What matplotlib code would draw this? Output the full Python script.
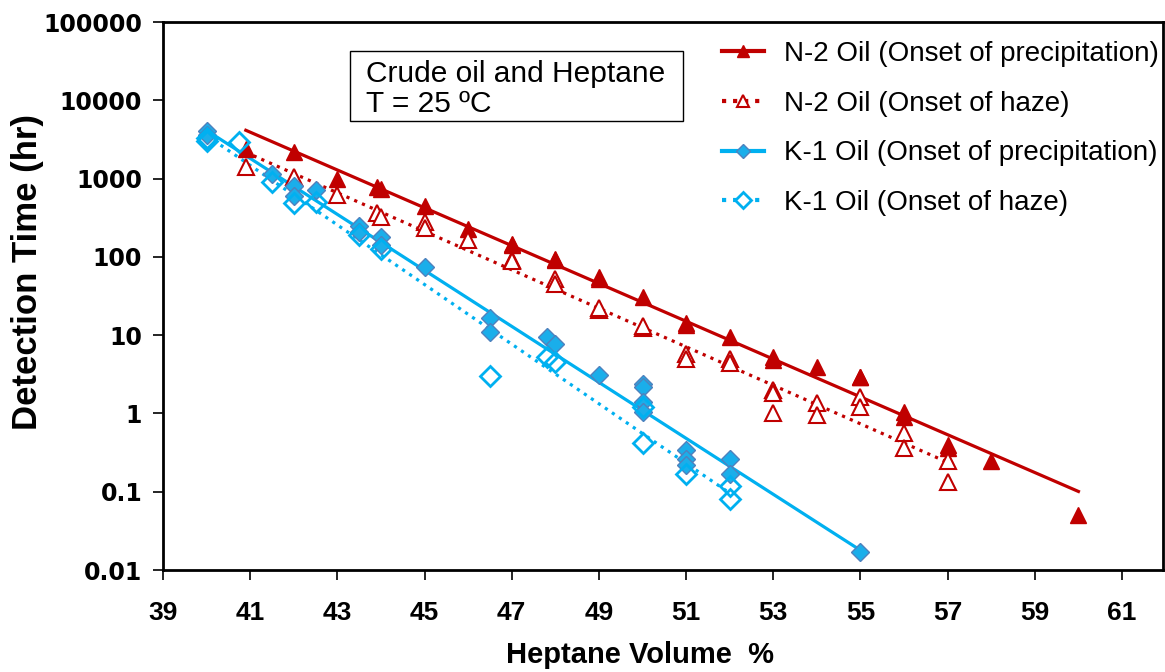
import numpy as np
import matplotlib
matplotlib.use("Agg")
import matplotlib.pyplot as plt
from matplotlib.lines import Line2D
from matplotlib.patches import Rectangle
from matplotlib.ticker import FixedLocator, FixedFormatter, NullLocator

# Heptane volume % and detection time (hr) for each oil / onset type
n2_precip_x = [40.9, 42, 43, 43.9, 44, 45, 46, 47, 47, 48, 48, 49, 49, 50, 51, 51,
               52, 53, 53, 54, 55, 55, 56, 56, 57, 57, 58, 60]
n2_precip_y = [2400, 2200, 1000, 780, 740, 450, 230, 145, 140, 95, 92, 55, 52, 31, 14.5, 13.5,
               9.5, 5.3, 4.8, 3.9, 2.9, 2.9, 1.05, 0.9, 0.4, 0.36, 0.25, 0.05]

n2_haze_x = [40.9, 42, 43, 43.9, 44, 45, 45, 46, 47, 47, 48, 48, 49, 49, 50, 50,
             51, 51, 52, 52, 53, 53, 53, 54, 54, 55, 55, 56, 56, 57, 57]
n2_haze_y = [1400, 1050, 620, 360, 320, 280, 235, 165, 92, 88, 52, 45, 21, 22, 12.5, 13,
             5.8, 5.0, 4.9, 4.4, 2.0, 1.8, 1.0, 1.35, 0.95, 1.6, 1.2, 0.56, 0.36, 0.25, 0.135]

k1_precip_x = [40, 40, 41.5, 42, 42, 42.5, 43.5, 43.5, 44, 44, 45, 46.5, 46.5, 47.8, 48,
               49, 50, 50, 50, 50, 51, 51, 51, 52, 52, 55]
k1_precip_y = [4100, 3600, 1150, 800, 600, 720, 250, 205, 178, 140, 74, 16.5, 11, 9.5, 7.8,
               3.1, 2.4, 2.2, 1.4, 1.05, 0.34, 0.26, 0.22, 0.26, 0.17, 0.017]

k1_haze_x = [40, 40, 40.75, 41.5, 42, 42.5, 43.5, 44, 46.5, 47.8, 48, 50, 50, 51, 52, 52]
k1_haze_y = [3000, 3300, 2900, 900, 490, 500, 190, 125, 3.0, 5.3, 4.5, 0.42, 1.2, 0.17, 0.12, 0.08]

labels = ["N-2 Oil (Onset of precipitation)", "N-2 Oil (Onset of haze)",
          "K-1 Oil (Onset of precipitation)", "K-1 Oil (Onset of haze)"]

x_ticks = list(range(39, 62, 2))
y_ticks = [0.01, 0.1, 1, 10, 100, 1000, 10000, 100000]
y_tick_labels = ["0.01", "0.1", "1", "10", "100", "1000", "10000", "100000"]

RED = "#C00000"
BLUE = "#00B0F0"
BLUE_EDGE = "#4F81BD"

plain = ["Liberation Sans", "DejaVu Sans"]

W, H = 1165, 672
fig = plt.figure(figsize=(W / 100, H / 100), dpi=100)
ax = fig.add_axes([163 / W, 102 / H, 1000 / W, 548 / H])
ax.set_yscale("log")


def trend(x, y):
    """Exponential trendline over the data's own x-range."""
    x = np.asarray(x, float)
    ly = np.log10(np.asarray(y, float))
    b, a = np.polyfit(x, ly, 1)
    xs = np.linspace(x.min(), x.max(), 50)
    return xs, 10 ** (a + b * xs)


series = [
    (n2_precip_x, n2_precip_y, dict(color=RED, ls="-", marker="^", mfc=RED, mec=RED, ms=11, mew=1)),
    (n2_haze_x, n2_haze_y, dict(color=RED, ls=":", marker="^", mfc="white", mec=RED, ms=11, mew=1.5)),
    (k1_precip_x, k1_precip_y, dict(color=BLUE, ls="-", marker="D", mfc="#1AAEEA", mec=BLUE_EDGE, ms=9.5, mew=1)),
    (k1_haze_x, k1_haze_y, dict(color=BLUE, ls=":", marker="D", mfc="none", mec=BLUE, ms=10, mew=2)),
]

handles = []
for (x, y, st), lab in zip(series, labels):
    ax.plot(x, y, linestyle="none", marker=st["marker"], markerfacecolor=st["mfc"],
            markeredgecolor=st["mec"], markersize=st["ms"], markeredgewidth=st["mew"], zorder=3)
    xs, ys = trend(x, y)
    ax.plot(xs, ys, color=st["color"], linestyle=st["ls"], linewidth=2.3, zorder=2)
    handles.append(Line2D([], [], color=st["color"], linestyle=st["ls"], linewidth=3,
                          marker=st["marker"],
                          markerfacecolor=st["mfc"] if st["mfc"] != "none" else "white",
                          markeredgecolor=st["mec"], markersize=st["ms"] * 0.8,
                          markeredgewidth=st["mew"]))

ax.set_xlim(39, 61.94)
ax.set_ylim(0.01, 100000)

ax.xaxis.set_major_locator(FixedLocator(x_ticks))
ax.yaxis.set_major_locator(FixedLocator(y_ticks))
ax.yaxis.set_major_formatter(FixedFormatter(y_tick_labels))
ax.yaxis.set_minor_locator(NullLocator())
ax.xaxis.set_minor_locator(NullLocator())

ax.tick_params(axis="both", direction="out", length=7, width=1.2, color="black")
ax.tick_params(axis="x", pad=15)
ax.tick_params(axis="y", pad=8)
for t in ax.get_xticklabels():
    t.set_fontfamily(plain)
    t.set_fontweight("bold")
    t.set_fontsize(19)
for t in ax.get_yticklabels():
    t.set_fontfamily(["DejaVu Sans"])
    t.set_fontweight("bold")
    t.set_fontsize(17)

for s in ax.spines.values():
    s.set_linewidth(2)
    s.set_color("black")

fig.text(640 / W, 1 - 655 / H, "Heptane Volume  %", ha="center", va="center",
         fontsize=21, fontweight="bold", family=plain)
fig.text(28 / W, 1 - 272 / H, "Detection Time (hr)", ha="center", va="center",
         rotation=90, fontsize=25, fontweight="bold", family=plain)

# condition box
fig.add_artist(Rectangle((350 / W, 1 - 121 / H), 333 / W, 70 / H, transform=fig.transFigure,
                         facecolor="white", edgecolor="black", linewidth=1, zorder=4))
fig.text(366 / W, 1 - 89 / H, "Crude oil and Heptane\nT = 25 ºC", ha="left", va="center",
         fontsize=21.5, family=plain, linespacing=1.08, zorder=5)

leg = fig.legend(handles, labels, loc="upper left", bbox_to_anchor=(722 / W, 1 - 41 / H),
                 frameon=False, prop=dict(family=plain, size=20),
                 handlelength=1.5, handletextpad=0.75, labelspacing=0.85,
                 borderpad=0, borderaxespad=0, numpoints=1)

fig.savefig("out.png", dpi=100)
